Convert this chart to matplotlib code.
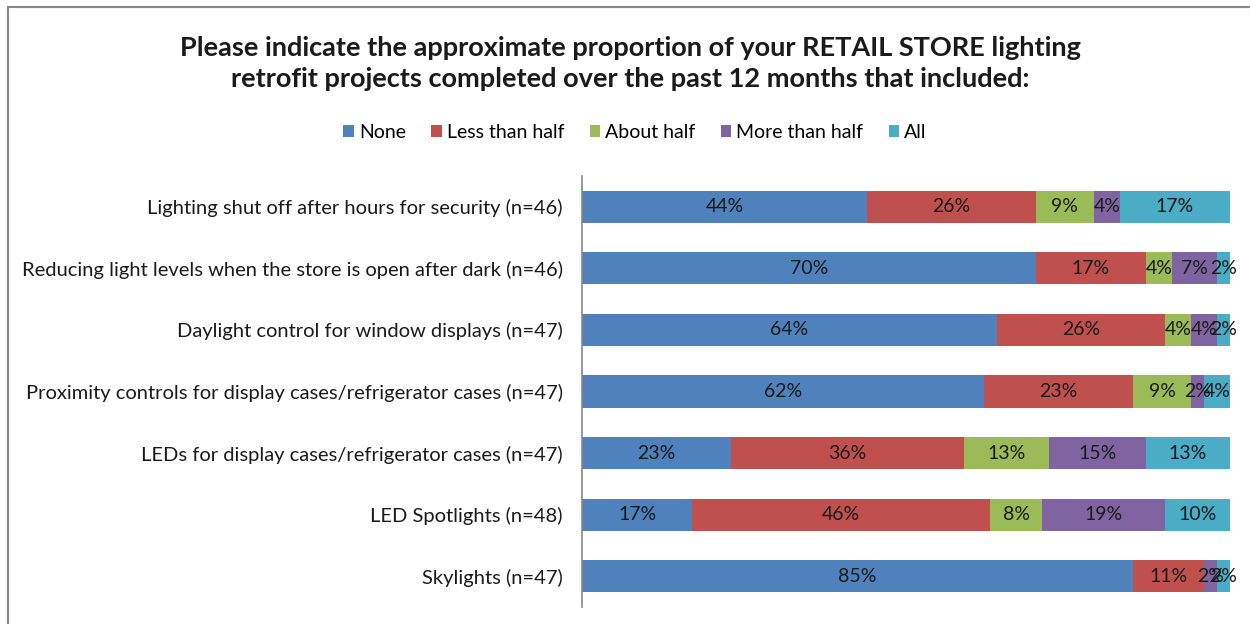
import matplotlib

matplotlib.use("Agg")
import matplotlib.pyplot as plt
from matplotlib.lines import Line2D
import numpy as np

plt.rcParams["font.family"] = ["Lato", "DejaVu Sans"]

INK = "#1a1a1a"
COLORS = ["#4F81BD", "#C0504D", "#9BBB59", "#8064A2", "#4BACC6"]

categories = [
    "Lighting shut off after hours for security (n=46)",
    "Reducing light levels when the store is open after dark (n=46)",
    "Daylight control for window displays (n=47)",
    "Proximity controls for display cases/refrigerator cases (n=47)",
    "LEDs for display cases/refrigerator cases (n=47)",
    "LED Spotlights (n=48)",
    "Skylights (n=47)",
]
series = ["None", "Less than half", "About half", "More than half", "All"]

none = [44, 70, 64, 62, 23, 17, 85]
less_half = [26, 17, 26, 23, 36, 46, 11]
about_half = [9, 4, 4, 9, 13, 8, 0]
more_half = [4, 7, 4, 2, 15, 19, 2]
all_ = [17, 2, 2, 4, 13, 10, 2]

values = [none, less_half, about_half, more_half, all_]

fig = plt.figure(figsize=(12.5, 6.24), dpi=100)
ax = fig.add_axes([582 / 1250, 1 - 607 / 624, (1230 - 582) / 1250, (607 - 176) / 624])

y = np.arange(len(categories))
left = np.zeros(len(categories))
handles = []
for name, vals, col in zip(series, values, COLORS):
    vals = np.array(vals, dtype=float)
    bars = ax.barh(y, vals, left=left, height=0.52, color=col, label=name)
    handles.append(bars)
    for yi, l, v in zip(y, left, vals):
        if v > 0:
            ax.text(l + v / 2, yi, f"{v:.0f}%", ha="center", va="center",
                    fontsize=14, color=INK)
    left += vals

ax.set_xlim(0, 100)
ax.set_ylim(len(categories) - 0.5, -0.5)
ax.set_yticks(y)
ax.set_yticklabels(categories, fontsize=14.5, color=INK)
ax.tick_params(axis="y", length=0, pad=14)
ax.set_xticks([])
for s in ["top", "right", "bottom"]:
    ax.spines[s].set_visible(False)
ax.spines["left"].set_color("#888888")
ax.spines["left"].set_linewidth(1.2)

fig.text(0.504, 0.898,
         "Please indicate the approximate proportion of your RETAIL STORE lighting\n"
         "retrofit projects completed over the past 12 months that included:",
         ha="center", va="center", fontsize=19.5, fontweight="bold", color=INK,
         linespacing=1.35)

fig.legend(handles=handles, labels=series, loc="center", bbox_to_anchor=(0.508, 0.788),
           ncol=5, frameon=False, fontsize=14, handlelength=0.55, handleheight=0.55,
           handletextpad=0.25, columnspacing=1.3)

# chart area border (left and top edges visible in the crop)
fig.add_artist(Line2D([8 / 1250, 8 / 1250], [0, 1 - 7 / 624], transform=fig.transFigure,
                      color="#888888", lw=1.5))
fig.add_artist(Line2D([8 / 1250, 1], [1 - 7 / 624, 1 - 7 / 624], transform=fig.transFigure,
                      color="#888888", lw=1.5))

fig.savefig("out.png", dpi=100, facecolor="white")
